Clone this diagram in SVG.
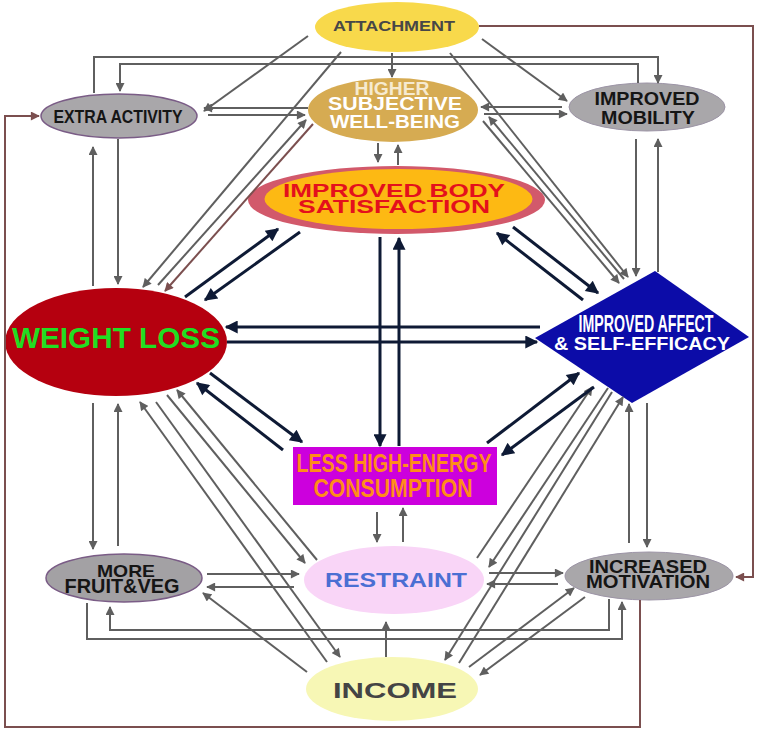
<svg xmlns="http://www.w3.org/2000/svg" width="757" height="731" viewBox="0 0 757 731">
<style>
.t{font-family:"Liberation Sans",Arial,sans-serif;font-weight:bold;text-anchor:middle}
.g{fill:none;stroke:#5f5f5f;stroke-width:2}
.n{fill:none;stroke:#0e1a35;stroke-width:3}
.b{fill:none;stroke:#7b4f4f;stroke-width:2}
.g .a,.g path{marker-end:url(#ag)}
</style>
<defs>
<marker id="ag" viewBox="0 0 10 10" refX="9" refY="5" markerWidth="10" markerHeight="9" markerUnits="userSpaceOnUse" orient="auto"><path d="M0,0 L10,5 L0,10 z" fill="#5f5f5f"/></marker>
<marker id="an" viewBox="0 0 10 10" refX="9" refY="5" markerWidth="16" markerHeight="13" markerUnits="userSpaceOnUse" orient="auto"><path d="M0,0 L10,5 L0,10 z" fill="#0e1a35"/></marker>
<marker id="ab" viewBox="0 0 10 10" refX="9" refY="5" markerWidth="10" markerHeight="9" markerUnits="userSpaceOnUse" orient="auto"><path d="M0,0 L10,5 L0,10 z" fill="#7b4f4f"/></marker>
</defs>
<rect width="757" height="731" fill="#ffffff"/>

<g id="nodes">
<g id="attachment"><ellipse cx="397" cy="27" rx="82" ry="25" fill="#f8d94b"/><text class="t" x="394" y="31" font-size="15" textLength="122" lengthAdjust="spacingAndGlyphs" fill="#474747">ATTACHMENT</text></g>
<g id="swb"><ellipse cx="393" cy="110" rx="85" ry="32" fill="#d6ab52"/>
<text class="t" x="392" y="95" font-size="18" textLength="75" lengthAdjust="spacingAndGlyphs" fill="#f6ead0">HIGHER</text>
<text class="t" x="395" y="110" font-size="18" textLength="134" lengthAdjust="spacingAndGlyphs" fill="#ffffff">SUBJECTIVE</text>
<text class="t" x="395" y="128" font-size="18" textLength="130" lengthAdjust="spacingAndGlyphs" fill="#ffffff">WELL-BEING</text></g>
<g id="body"><ellipse cx="396.5" cy="200" rx="148.5" ry="34" fill="#d2596b"/><ellipse cx="398.5" cy="199" rx="134" ry="30" fill="#fdb913"/>
<text class="t" x="394" y="197" font-size="19" textLength="222" lengthAdjust="spacingAndGlyphs" fill="#e4101c">IMPROVED BODY</text>
<text class="t" x="394" y="213" font-size="19" textLength="192" lengthAdjust="spacingAndGlyphs" fill="#e4101c">SATISFACTION</text></g>
<g id="extra"><ellipse cx="119" cy="116" rx="78" ry="22" fill="#a9a7aa" stroke="#7a5c86" stroke-width="1.5"/><text class="t" x="118" y="123" font-size="19" textLength="129" lengthAdjust="spacingAndGlyphs" fill="#151515">EXTRA ACTIVITY</text></g>
<g id="mobility"><ellipse cx="647" cy="107" rx="78" ry="24" fill="#a9a7aa" stroke="#9c94a6" stroke-width="1"/>
<text class="t" x="647" y="105" font-size="18" textLength="105" lengthAdjust="spacingAndGlyphs" fill="#151515">IMPROVED</text>
<text class="t" x="648" y="124" font-size="19" textLength="94" lengthAdjust="spacingAndGlyphs" fill="#151515">MOBILITY</text></g>
<g id="weight"><ellipse cx="116" cy="342" rx="111" ry="54" fill="#b5000f"/><text class="t" x="116" y="348" font-size="30" textLength="208" lengthAdjust="spacingAndGlyphs" fill="#22dd22">WEIGHT LOSS</text></g>
<g id="affect"><polygon points="535,338 655,271 749,337 632,403" fill="#0c0ca8"/>
<text class="t" x="646" y="332" font-size="24" textLength="135" lengthAdjust="spacingAndGlyphs" fill="#ffffff">IMPROVED AFFECT</text>
<text class="t" x="642" y="350" font-size="19" textLength="176" lengthAdjust="spacingAndGlyphs" fill="#ffffff">&amp; SELF-EFFICACY</text></g>
<g id="consumption"><rect x="293" y="447" width="204" height="58" fill="#cc00dd"/>
<text class="t" x="394" y="472" font-size="26" textLength="195" lengthAdjust="spacingAndGlyphs" fill="#ff8c1a">LESS HIGH-ENERGY</text>
<text class="t" x="393" y="497" font-size="26" textLength="159" lengthAdjust="spacingAndGlyphs" fill="#ff8c1a">CONSUMPTION</text></g>
<g id="restraint"><ellipse cx="394" cy="580" rx="90" ry="34" fill="#f9d5f7"/><text class="t" x="396" y="587" font-size="21" textLength="142" lengthAdjust="spacingAndGlyphs" fill="#4b6fd3">RESTRAINT</text></g>
<g id="fruitveg"><ellipse cx="124" cy="578" rx="78" ry="24" fill="#a3a1a4" stroke="#7a5c86" stroke-width="1.5"/>
<text class="t" x="126" y="577" font-size="17" textLength="58" lengthAdjust="spacingAndGlyphs" fill="#151515">MORE</text>
<text class="t" x="122" y="593" font-size="20" textLength="115" lengthAdjust="spacingAndGlyphs" fill="#151515">FRUIT&amp;VEG</text></g>
<g id="motivation"><ellipse cx="649" cy="576" rx="84" ry="24" fill="#a9a7aa" stroke="#9c94a6" stroke-width="1"/>
<text class="t" x="648" y="573" font-size="18" textLength="118" lengthAdjust="spacingAndGlyphs" fill="#151515">INCREASED</text>
<text class="t" x="648" y="588" font-size="18" textLength="124" lengthAdjust="spacingAndGlyphs" fill="#151515">MOTIVATION</text></g>
<g id="income"><ellipse cx="392" cy="689" rx="86" ry="32" fill="#f7f7b5"/><text class="t" x="395" y="698" font-size="22" textLength="124" lengthAdjust="spacingAndGlyphs" fill="#444444">INCOME</text></g>
</g>

<g id="connectors">
<g class="g">
<path d="M308,36 L204,111"/>
<path d="M392,53 L392,77"/>
<path d="M482,39 L567,101"/>
<path d="M341,52 L143,287"/>
<path d="M450,53 L628,277"/>
<path d="M308,108 L204,108"/>
<path d="M208,115 L305,115"/>
<path d="M562,107 L481,107"/>
<path d="M484,114 L567,114"/>
<path d="M94,93 L94,57 L658,57 L658,83"/>
<path d="M638,83 L638,64 L120,64 L120,91"/>
<path d="M158,285 L306,120"/>
<path d="M624,279 L489,117"/>
<path d="M483,121 L619,283"/>
<path d="M118,139 L118,284"/>
<path d="M93,286 L93,147"/>
<path d="M93,403 L93,549"/>
<path d="M118,546 L118,404"/>
<path d="M636,139 L636,276"/>
<path d="M658,272 L658,139"/>
<path d="M629,543 L629,404"/>
<path d="M647,403 L647,547"/>
<path d="M378,143 L378,162"/>
<path d="M398,165 L398,145"/>
<path d="M377,512 L377,542"/>
<path d="M403,542 L403,508"/>
<path d="M207,574 L299,574"/>
<path d="M294,587 L207,587"/>
<path d="M489,573 L563,573"/>
<path d="M558,584 L487,584"/>
<path d="M386,657 L386,622"/>
<path d="M87,603 L87,639 L622,639 L622,602"/>
<path d="M609,599 L609,630 L110,630 L110,607"/>
<path d="M307,672 L203,593"/>
<path d="M469,667 L574,588"/>
<path d="M585,597 L480,675"/>
<path d="M327,662 L140,402"/>
<path d="M156,402 L340,657"/>
<path d="M167,395 L305,563"/>
<path d="M317,560 L177,390"/>
<path d="M477,558 L592,387"/>
<path d="M608,388 L489,567"/>
<path d="M459,663 L623,397"/>
<path d="M612,392 L445,660"/>
</g>
<g class="b">
<path d="M313,124 L165,291" marker-end="url(#ab)"/>
<path d="M479,26 L753,26 L753,577 L736,577" marker-end="url(#ab)"/>
<path d="M640,600 L640,727 L5,727 L5,116 L39,116" marker-end="url(#ab)"/>
</g>
<g class="n">
<path d="M185,297 L278,229" marker-end="url(#an)"/>
<path d="M300,232 L205,300" marker-end="url(#an)"/>
<path d="M583,300 L497,233" marker-end="url(#an)"/>
<path d="M513,227 L598,293" marker-end="url(#an)"/>
<path d="M540,327 L226,327" marker-end="url(#an)"/>
<path d="M227,342 L537,342" marker-end="url(#an)"/>
<path d="M210,373 L302,442" marker-end="url(#an)"/>
<path d="M283,450 L197,383" marker-end="url(#an)"/>
<path d="M487,443 L579,373" marker-end="url(#an)"/>
<path d="M594,387 L502,455" marker-end="url(#an)"/>
<path d="M380,237 L380,446" marker-end="url(#an)"/>
<path d="M399,446 L399,238" marker-end="url(#an)"/>
</g>
</g>
</svg>
